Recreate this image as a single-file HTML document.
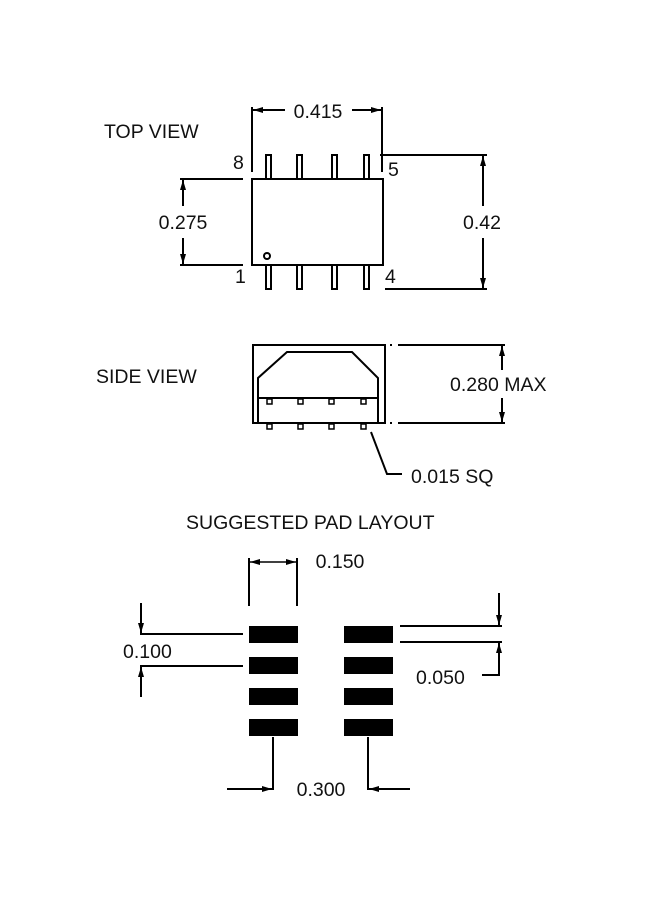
<!DOCTYPE html>
<html><head><style>
body{margin:0;background:#fff;}
svg{display:block}
text{font-family:"Liberation Sans",Arial,sans-serif;font-size:19.5px;fill:#111}
</style></head><body>
<svg width="650" height="900" viewBox="0 0 650 900">
<defs>
<marker id="a" viewBox="0 0 10 6" refX="10" refY="3" markerWidth="10" markerHeight="6" orient="auto-start-reverse" markerUnits="userSpaceOnUse"><path d="M0,0 L10,3 L0,6z" fill="#000"/></marker>
</defs>
<g stroke="#000" stroke-width="2" fill="none">
<rect x="252" y="179" width="131" height="86" fill="#fff"/>
<rect x="266" y="155" width="5" height="24"/><rect x="297" y="155" width="5" height="24"/><rect x="332" y="155" width="5" height="24"/><rect x="364" y="155" width="5" height="24"/>
<rect x="266" y="265" width="5" height="24"/><rect x="297" y="265" width="5" height="24"/><rect x="332" y="265" width="5" height="24"/><rect x="364" y="265" width="5" height="24"/>
<circle cx="267" cy="256" r="3"/>
<line x1="252" y1="107" x2="252" y2="172"/><line x1="382" y1="107" x2="382" y2="172"/>
<line x1="253" y1="110" x2="285" y2="110" marker-start="url(#a)"/><line x1="352" y1="110" x2="381" y2="110" marker-end="url(#a)"/>
<line x1="380" y1="155" x2="487" y2="155"/><line x1="385" y1="289" x2="487" y2="289"/>
<line x1="483" y1="156" x2="483" y2="206" marker-start="url(#a)"/><line x1="483" y1="238" x2="483" y2="288" marker-end="url(#a)"/>
<line x1="180" y1="179" x2="243" y2="179"/><line x1="180" y1="265" x2="243" y2="265"/>
<line x1="183" y1="180" x2="183" y2="206" marker-start="url(#a)"/><line x1="183" y1="238" x2="183" y2="264" marker-end="url(#a)"/>
<rect x="253" y="345" width="132" height="78"/>
<polyline points="258,423 258,378 287,352 352,352 378,378 378,423"/>
<line x1="258" y1="398" x2="378" y2="398"/>
<g stroke-width="1.5"><rect x="267" y="399" width="5" height="5"/><rect x="298" y="399" width="5" height="5"/><rect x="329" y="399" width="5" height="5"/><rect x="361" y="399" width="5" height="5"/>
<rect x="267" y="424" width="5" height="5"/><rect x="298" y="424" width="5" height="5"/><rect x="329" y="424" width="5" height="5"/><rect x="361" y="424" width="5" height="5"/></g>
<line x1="390" y1="345" x2="392" y2="345"/><line x1="398" y1="345" x2="505" y2="345"/>
<line x1="390" y1="423" x2="392" y2="423"/><line x1="398" y1="423" x2="505" y2="423"/>
<line x1="502" y1="346" x2="502" y2="370" marker-start="url(#a)"/><line x1="502" y1="398" x2="502" y2="422" marker-end="url(#a)"/>
<polyline points="371,432 387,474 402,474"/>
<line x1="249" y1="558" x2="249" y2="606"/><line x1="297" y1="558" x2="297" y2="606"/>
<line x1="250" y1="562" x2="296" y2="562" marker-start="url(#a)" marker-end="url(#a)" stroke-width="1.5"/>
<line x1="140" y1="634" x2="243" y2="634"/><line x1="140" y1="666" x2="243" y2="666"/>
<line x1="141" y1="603" x2="141" y2="633" marker-end="url(#a)"/><line x1="141" y1="697" x2="141" y2="667" marker-end="url(#a)"/>
<line x1="400" y1="626" x2="502" y2="626"/><line x1="400" y1="642" x2="502" y2="642"/>
<line x1="499" y1="593" x2="499" y2="625" marker-end="url(#a)"/><polyline points="482,675 499,675 499,643" marker-end="url(#a)"/>
<line x1="273" y1="737" x2="273" y2="790"/><line x1="368" y1="737" x2="368" y2="790"/>
<line x1="227" y1="789" x2="272" y2="789" marker-end="url(#a)"/><line x1="410" y1="789" x2="369" y2="789" marker-end="url(#a)"/>
</g>
<g fill="#000">
<rect x="249" y="626" width="49" height="17"/><rect x="249" y="657" width="49" height="17"/><rect x="249" y="688" width="49" height="17"/><rect x="249" y="719" width="49" height="17"/>
<rect x="344" y="626" width="49" height="17"/><rect x="344" y="657" width="49" height="17"/><rect x="344" y="688" width="49" height="17"/><rect x="344" y="719" width="49" height="17"/>
</g>
<text x="104" y="138">TOP VIEW</text>
<text x="318" y="118" text-anchor="middle">0.415</text>
<text x="233" y="169">8</text><text x="388" y="176">5</text>
<text x="235" y="283">1</text><text x="385" y="283">4</text>
<text x="183" y="229" text-anchor="middle">0.275</text>
<text x="482" y="229" text-anchor="middle">0.42</text>
<text x="96" y="383">SIDE VIEW</text>
<text x="450" y="391">0.280 MAX</text>
<text x="411" y="483">0.015 SQ</text>
<text x="186" y="529">SUGGESTED PAD LAYOUT</text>
<text x="340" y="568" text-anchor="middle">0.150</text>
<text x="123" y="658">0.100</text>
<text x="416" y="684">0.050</text>
<text x="321" y="796" text-anchor="middle">0.300</text>
</svg>
</body></html>
